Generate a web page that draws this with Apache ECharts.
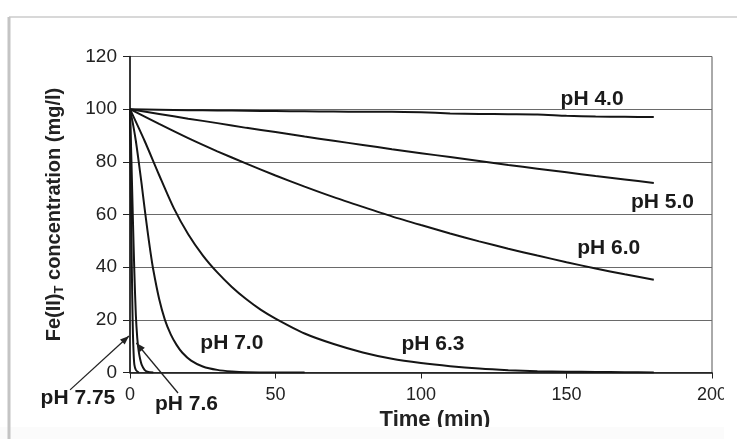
<!DOCTYPE html>
<html><head><meta charset="utf-8">
<script src="https://cdn.jsdelivr.net/npm/echarts/dist/echarts.min.js"></script>
<style>html,body{margin:0;padding:0;background:#fff}#c{width:737px;height:439px}</style>
</head><body><div id="c"></div>
<script>
// ---- data ----
const xTicks = [0, 50, 100, 150, 200];
const yTicks = [0, 20, 40, 60, 80, 100, 120];
const seriesNames = ['pH 4.0', 'pH 5.0', 'pH 6.0', 'pH 6.3', 'pH 7.0', 'pH 7.6', 'pH 7.75'];

const timeSlow = [0,10,20,30,40,50,60,70,80,90,100,110,120,130,140,150,160,170,180];
const ph40 = [100,99.8,99.6,99.5,99.4,99.3,99.2,99.1,99,99,98.8,98.4,98.2,98.1,98,97.5,97.2,97.1,97.0];
const ph50 = [100,98.2,96.4,94.7,92.9,91.3,89.6,88.0,86.4,84.8,83.3,81.8,80.3,78.8,77.4,76.0,74.6,73.3,72.0];
const ph60 = [100,94.4,89.0,84.0,79.3,74.8,70.6,66.6,62.9,59.3,56.0,52.8,49.8,47.0,44.4,41.9,39.5,37.3,35.2];

const time63 = [0,5,10,15,20,25,30,35,40,45,50,60,70,80,90,100,110,120,130,140,150,160,170,180];
const ph63 = [100,88,75,62.5,52.5,44.5,38,32.5,27.8,23.8,20.5,14.8,10.8,7.6,5.2,3.6,2.4,1.5,0.9,0.5,0.3,0.2,0.1,0];

const time70 = [0,1,2,3,4,5,6,7,8,10,12,14,16,18,21,25,30,35,40,50,60];
const ph70 = [100,94.5,88,80,71.5,62.5,54,46,39,28,20,14.5,10.5,7.5,4.5,2.3,1,0.4,0.1,0,0];

const time76 = [0,0.5,1,1.5,2,2.5,3,3.5,4,5,6,8];
const ph76 = [100,80,58,38,22,13,8,5,3,1,0.3,0];

const time775 = [0,0.25,0.5,0.75,1,1.25,1.5,2,3];
const ph775 = [100,75,50,30,15,7,3,1,0];

// ---- build ----
const zip = (t, v) => t.map((x, i) => [x, v[i]]);
const seriesData = [
  zip(timeSlow, ph40), zip(timeSlow, ph50), zip(timeSlow, ph60),
  zip(time63, ph63), zip(time70, ph70), zip(time76, ph76), zip(time775, ph775)
];

const chart = echarts.init(document.getElementById('c'), null, {renderer: 'canvas'});
const FONT = '"Liberation Sans", Arial, Helvetica, sans-serif';

chart.setOption({
  animation: false,
  backgroundColor: '#fff',
  grid: {left: 130, right: 25, top: 56.5, bottom: 66.5, show: true, borderColor: '#555', borderWidth: 1},
  xAxis: {
    type: 'value', min: xTicks[0], max: xTicks[xTicks.length - 1], interval: 50,
    axisLine: {onZero: false, lineStyle: {color: '#111', width: 1.5}},
    axisTick: {show: true, length: 6, lineStyle: {color: '#222', width: 1}},
    axisLabel: {color: '#222', fontSize: 18, fontFamily: FONT, margin: 14},
    splitLine: {show: false},
    name: 'Time (min)', nameLocation: 'middle', nameGap: 36,
    nameTextStyle: {color: '#222', fontSize: 22, fontWeight: 'bold', fontFamily: FONT, padding: [0, 0, 0, 28]}
  },
  yAxis: {
    type: 'value', min: yTicks[0], max: yTicks[yTicks.length - 1], interval: 20,
    axisLine: {show: true, lineStyle: {color: '#111', width: 1.5}},
    axisTick: {show: true, length: 7, lineStyle: {color: '#222', width: 1}},
    axisLabel: {color: '#222', fontSize: 19, fontFamily: FONT, margin: 13},
    splitLine: {show: true, lineStyle: {color: '#6a6a6a', width: 1.2}},
    name: 'Fe(II){sub|T} concentration (mg/l)', nameLocation: 'middle', nameGap: 64,
    nameTextStyle: {
      color: '#222', fontSize: 20, fontWeight: 'bold', fontFamily: FONT, lineHeight: 24,
      rich: {sub: {fontSize: 13, fontWeight: 'bold', fontFamily: FONT, color: '#222', verticalAlign: 'bottom', lineHeight: 14}}
    }
  },
  series: seriesData.map((d, i) => ({
    name: seriesNames[i], type: 'line', data: d, showSymbol: false, symbol: 'none',
    smooth: 0.25, lineStyle: {color: '#151515', width: 2}, clip: true, z: 3
  }))
});

// ---- annotations (anchored in data coordinates) ----
const labelAnchors = [
  {text: 'pH 4.0', at: [158.8, 103.6]},
  {text: 'pH 5.0', at: [183.0, 64.5]},
  {text: 'pH 6.0', at: [164.5, 47.3]},
  {text: 'pH 7.0', at: [35.0, 11.2]},
  {text: 'pH 6.3', at: [104.1, 10.8]},
  {text: 'pH 7.75', at: [-17.9, -9.6]},
  {text: 'pH 7.6', at: [19.4, -12.0]}
];
const arrows = [
  {from: [-20.6, -6.6], to: [-0.35, 13.9]},
  {from: [16.5, -7.8], to: [2.2, 11.2]}
];
const px = p => chart.convertToPixel({gridIndex: 0}, p);
const graphics = [];
labelAnchors.forEach(l => {
  const p = px(l.at);
  graphics.push({type: 'text', x: p[0], y: p[1], z: 10,
    style: {text: l.text, fill: '#1a1a1a', font: 'bold 21px ' + FONT, textAlign: 'center', textVerticalAlign: 'middle'}});
});
arrows.forEach(a => {
  const s = px(a.from), e = px(a.to);
  const dx = e[0] - s[0], dy = e[1] - s[1], L = Math.hypot(dx, dy);
  const ux = dx / L, uy = dy / L, nx = -uy, ny = ux, h = 9, w = 3.5;
  graphics.push({type: 'line', z: 10, shape: {x1: s[0], y1: s[1], x2: e[0], y2: e[1]}, style: {stroke: '#222', lineWidth: 1.3}});
  graphics.push({type: 'polygon', z: 10, shape: {points: [
    [e[0], e[1]], [e[0] - ux * h + nx * w, e[1] - uy * h + ny * w], [e[0] - ux * h - nx * w, e[1] - uy * h - ny * w]
  ]}, style: {fill: '#222'}});
});
// scan page edges / crop
graphics.push({type: 'rect', z: 20, shape: {x: 0, y: 427, width: 737, height: 12}, style: {fill: '#fbfbfb'}});
graphics.push({type: 'rect', z: 20, shape: {x: 724, y: 17, width: 13, height: 422}, style: {fill: '#fff'}});
graphics.push({type: 'line', z: 21, shape: {x1: 9, y1: 17, x2: 737, y2: 17}, style: {stroke: '#d8d8d8', lineWidth: 2}});
graphics.push({type: 'line', z: 21, shape: {x1: 9, y1: 17, x2: 9, y2: 439}, style: {stroke: '#c4c4c4', lineWidth: 3}});
chart.setOption({graphic: graphics});
</script></body></html>
